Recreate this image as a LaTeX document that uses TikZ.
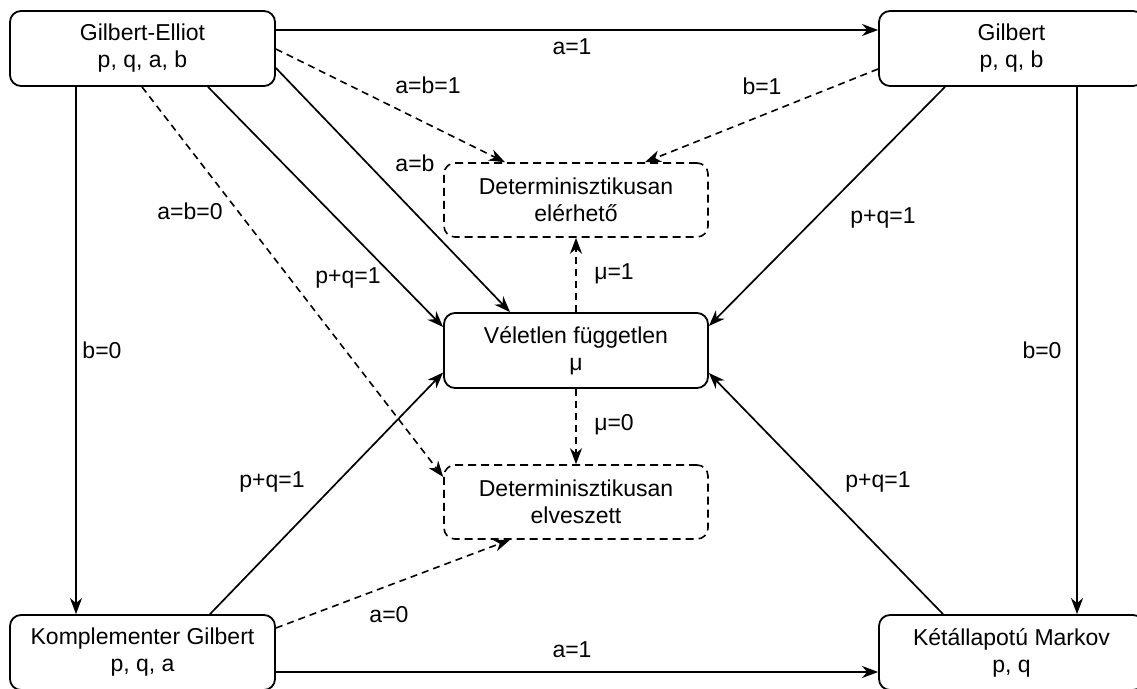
\documentclass[tikz,border=0pt]{standalone}
\usepackage{fontspec}
\setmainfont{Liberation Sans}
\usetikzlibrary{arrows.meta}
\begin{document}
\begin{tikzpicture}[x=1pt,y=-1pt,
  box/.style={draw, line width=1.8pt, rounded corners=11pt, minimum width=265pt, minimum height=75pt, align=center, inner sep=0pt, font=\fontsize{23}{27}\selectfont},
  dbox/.style={box, line width=1.6pt, dash pattern=on 8pt off 5pt, minimum width=264pt, minimum height=74pt},
  conn/.style={line width=1.7pt, -{Stealth[length=16pt,width=12pt,inset=5pt]}},
  dconn/.style={conn, line width=1.6pt, dash pattern=on 7pt off 5pt},
  lbl/.style={font=\fontsize{23}{27}\selectfont, inner sep=0pt}]
\fill[white] (0,0) rectangle (1137,688);
\useasboundingbox (0,0) rectangle (1137,688);

\node[box] (ge) at (142.5,48.5) {Gilbert-Elliot\\p, q, a, b};
\node[box] (gil) at (1011.5,48.5) {Gilbert\\p, q, b};
\node[dbox] (elr) at (576,200) {Determinisztikusan\\elérhető};
\node[box, minimum width=264pt] (vel) at (576,350.5) {Véletlen független\\μ};
\node[dbox] (elv) at (576,502) {Determinisztikusan\\elveszett};
\node[box] (komp) at (142.5,652.5) {Komplementer Gilbert\\p, q, a};
\node[box] (mar) at (1011.5,652.5) {Kétállapotú Markov\\p, q};

% connectors
\draw[conn] ([yshift=18.5pt]ge.east) -- ([yshift=18.5pt]gil.west);
\draw[dconn] ([yshift=-0.5pt]ge.east) -- ([xshift=-71pt]elr.north);
\draw[conn] ([yshift=-19.5pt]ge.east) -- ([xshift=-66pt]vel.north);
\draw[conn] ([xshift=65.5pt]ge.south) -- ([yshift=23.5pt]vel.west);
\draw[dconn] ([xshift=-0.5pt]ge.south) -- ([yshift=25pt]elv.west);
\draw[conn] ([xshift=-66.5pt]ge.south) -- ([xshift=-66.5pt]komp.north);
\draw[dconn] ([yshift=-20.5pt]gil.west) -- ([xshift=69pt]elr.north);
\draw[conn] ([xshift=-66.5pt]gil.south) -- ([yshift=24.5pt]vel.east);
\draw[conn] ([xshift=65.5pt]gil.south) -- ([xshift=65.5pt]mar.north);
\draw[dconn] (vel.north) -- (elr.south);
\draw[dconn] (vel.south) -- (elv.north);
\draw[conn] ([xshift=67.5pt]komp.north) -- ([yshift=-22pt]vel.west);
\draw[dconn] ([yshift=24.5pt]komp.east) -- ([xshift=-66pt]elv.south);
\draw[conn] ([yshift=-19.5pt]komp.east) -- ([yshift=-19.5pt]mar.west);
\draw[conn] ([xshift=-68.5pt]mar.north) -- ([yshift=-22.5pt]vel.east);

% labels
\node[lbl] (l1) at (572,47) {a=1};
\node[lbl] (l2) at (428,85) {a=b=1};
\node[lbl] (l3) at (762,86) {b=1};
\node[lbl] (l4) at (415,163) {a=b};
\node[lbl] (l5) at (190,211) {a=b=0};
\node[lbl] (l6) at (348,278) {p+q=1};
\node[lbl] (l7) at (883,218) {p+q=1};
\node[lbl] (l8) at (102,350) {b=0};
\node[lbl] (l9) at (1042,350) {b=0};
\node[lbl] (l10) at (614,274) {μ=1};
\node[lbl] (l11) at (614,425) {μ=0};
\node[lbl] (l12) at (272,482) {p+q=1};
\node[lbl] (l13) at (878,482) {p+q=1};
\node[lbl] (l14) at (389,615) {a=0};
\node[lbl] (l15) at (572,650) {a=1};
\end{tikzpicture}
\end{document}
